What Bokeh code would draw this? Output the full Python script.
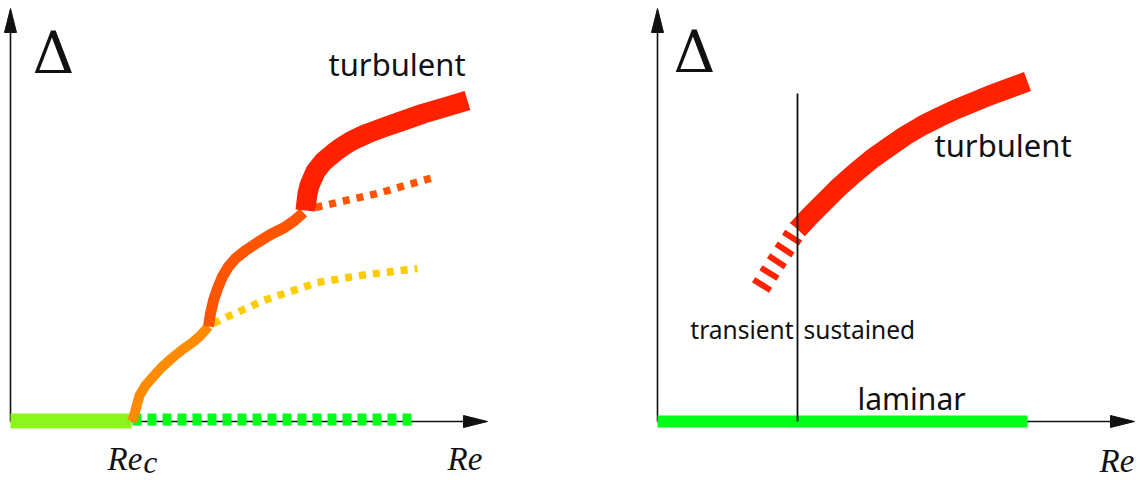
from bokeh.plotting import figure
from bokeh.models import Range1d, Label
from bokeh.layouts import row
from bokeh.embed import file_html
from bokeh.resources import INLINE

# ---------------- left panel: supercritical cascade ----------------
lam_stable_re = [0, 121]
lam_stable_delta = [0.5, 0.5]
lam_unstable_re = [122, 405]
lam_unstable_delta = [2, 2]

branch1_re = [121, 123, 126, 129, 135, 142, 151, 161, 172, 182, 190, 198]
branch1_delta = [0, 4, 15, 26, 36, 44, 54, 63, 72, 79, 86, 95]
branch1_cont_re = [203, 213, 253, 307, 350, 407]
branch1_cont_delta = [98, 103, 121, 139, 146, 153]

branch2_re = [198, 200, 203, 207, 212, 218, 225, 235, 247, 260, 274, 284, 293]
branch2_delta = [95, 108, 121, 133, 145, 155, 163, 171, 179, 187, 194, 201, 209]
branch2_cont_re = [305, 340, 367, 423]
branch2_cont_delta = [214, 222, 228, 244]

turb_left_re = [295, 296, 297, 299, 302, 305, 309, 313, 319, 325, 332, 340, 348,
                357, 365, 373, 393, 413, 437, 457]
turb_left_delta = [211, 220, 228, 236, 243, 250, 255, 260, 265, 270, 275, 280, 284,
                   288, 291, 294, 301, 308, 315, 321]

# ---------------- right panel: subcritical transition ----------------
lam_right_re = [0, 370]
lam_right_delta = [0, 0]
re_sustained = 140
re_sustained_top = 328
transient_re = [103, 116, 129, 141]
transient_delta = [134, 155, 175, 194]
turb_right_re = [140, 152, 165, 181, 198, 215, 232, 248, 265, 281, 298, 315, 332, 351, 370]
turb_right_delta = [192, 205, 218, 234, 249, 263, 275, 286, 296, 304, 312, 319, 326, 333, 340]

# axis extents (arrow tips) and arrowhead geometry
re_axis_end = 477
delta_axis_end = 413
head_len = 24
head_half = 6

TEXT_FONT = "Noto Sans"
MATH_FONT = "Liberation Serif"
DELTA_FONT = "DejaVu Serif"
INK = "#111111"
BASELINE_SHIFT = 0.35  # lift, in em, so the glyph baseline lands on y


def make_panel(width, x_start):
    p = figure(width=width, height=480, output_backend="svg", toolbar_location=None,
               x_range=Range1d(x_start, x_start + width), y_range=Range1d(-59, 421),
               x_axis_type=None, y_axis_type=None, min_border=0,
               min_border_left=0, min_border_right=0, min_border_top=0, min_border_bottom=0)
    p.grid.visible = False
    p.outline_line_color = None
    p.background_fill_color = "white"
    p.border_fill_color = "white"
    # axes with filled arrowheads
    p.segment(x0=[0, 0], y0=[0, 0], x1=[re_axis_end - head_len, 0], y1=[0, delta_axis_end - head_len],
              line_color=INK, line_width=1.6)
    p.patch([re_axis_end, re_axis_end - head_len, re_axis_end - head_len],
            [0, head_half, -head_half], color=INK)
    p.patch([0, head_half, -head_half],
            [delta_axis_end, delta_axis_end - head_len, delta_axis_end - head_len], color=INK)
    return p


def label(p, x, y, text, font, size, style="normal", align="left"):
    p.add_layout(Label(x=x, y=y + BASELINE_SHIFT * size, text=text, text_font=font,
                       text_font_size=f"{size}px", text_font_style=style, text_color=INK,
                       text_align=align, text_baseline="alphabetic"))


# ---- left ----
left = make_panel(571, -10)
left.line(lam_stable_re, lam_stable_delta, line_color="#8cf51c", line_width=15)
left.line(lam_unstable_re, lam_unstable_delta, line_color="#00ff19", line_width=12,
          line_dash="9 6")
left.line(branch1_cont_re, branch1_cont_delta, line_color="#ffcc00", line_width=7.5,
          line_dash="7 7")
left.line(branch2_cont_re, branch2_cont_delta, line_color="#ff5500", line_width=7.5,
          line_dash="7 7")
left.line(branch1_re, branch1_delta, line_color="#ff8c00", line_width=10, line_join="round")
left.line(branch2_re, branch2_delta, line_color="#ff5500", line_width=11, line_join="round")
left.line(turb_left_re, turb_left_delta, line_color="#ff2200", line_width=20, line_join="round")

label(left, 22, 348, "Δ", DELTA_FONT, 58)
label(left, 318, 347, "turbulent", TEXT_FONT, 31)
label(left, 97, -49, "Re", MATH_FONT, 33, "italic")
label(left, 133, -52, "c", MATH_FONT, 31, "italic")
label(left, 437, -49, "Re", MATH_FONT, 33, "italic")

# ---- right ----
right = make_panel(572, -86)
right.line(lam_right_re, lam_right_delta, line_color="#00ff19", line_width=12)
right.line(transient_re, transient_delta, line_color="#ff2200", line_width=20, line_dash="6 8")
right.line(turb_right_re, turb_right_delta, line_color="#ff2200", line_width=20, line_join="round")
right.segment(x0=[re_sustained], y0=[0], x1=[re_sustained], y1=[re_sustained_top],
              line_color=INK, line_width=1.8)

label(right, 16, 349, "Δ", DELTA_FONT, 58)
label(right, 277, 266, "turbulent", TEXT_FONT, 31)
label(right, 200, 13, "laminar", TEXT_FONT, 30)
label(right, 136, 83, "transient", TEXT_FONT, 24.5, align="right")
label(right, 146, 83, "sustained", TEXT_FONT, 24.5)
label(right, 442, -51, "Re", MATH_FONT, 33, "italic")

layout = row(left, right, spacing=0)
open("out.html", "w").write(file_html(layout, INLINE))
